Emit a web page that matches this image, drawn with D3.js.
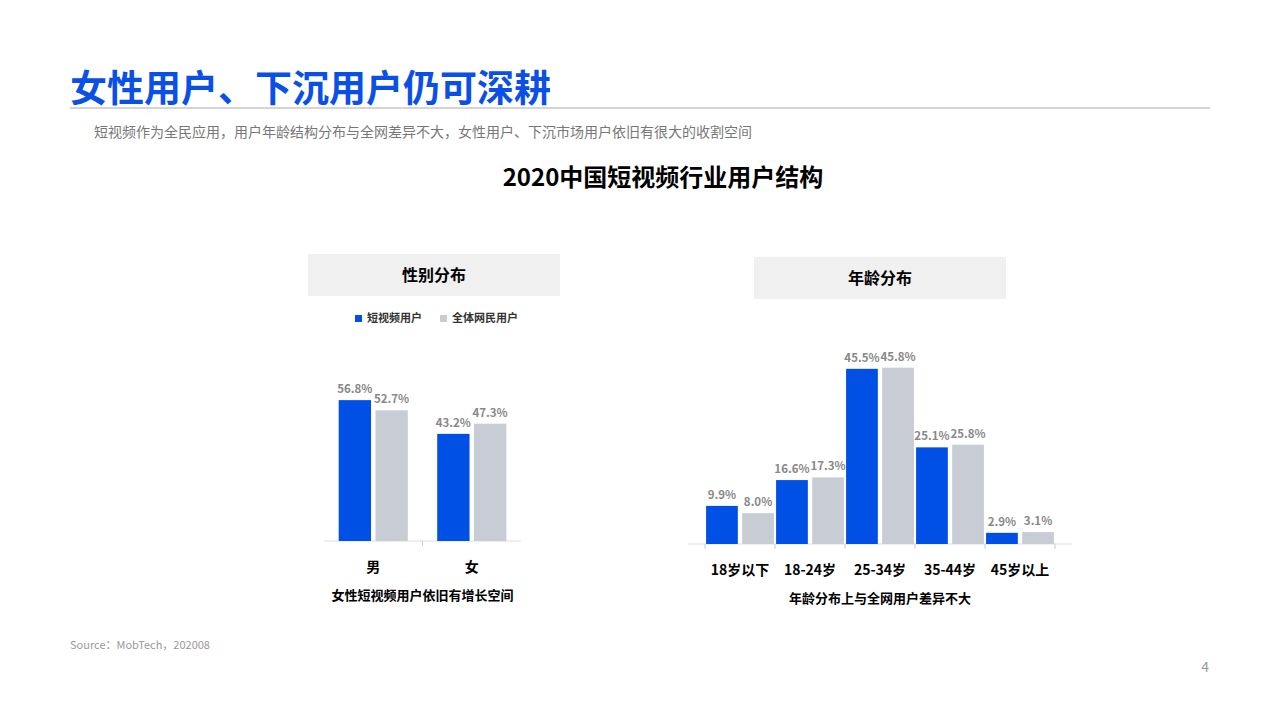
<!DOCTYPE html>
<html><head><meta charset="utf-8">
<script src="https://cdn.jsdelivr.net/npm/d3@7"></script>
<style>body{margin:0;background:#fff;font-family:"Noto Sans CJK SC","Noto Sans",sans-serif;}</style>
</head><body><svg id="c" width="1280" height="720"></svg>
<script>
var genderCats = ["男", "女"];
var genderShort = [56.8, 43.2];
var genderAll = [52.7, 47.3];
var ageCats = ["18岁以下", "18-24岁", "25-34岁", "35-44岁", "45岁以上"];
var ageShort = [9.9, 16.6, 45.5, 25.1, 2.9];
var ageAll = [8.0, 17.3, 45.8, 25.8, 3.1];
var seriesNames = ["短视频用户", "全体网民用户"];
var colors = ["#0050e6", "#c8ccd4"];

var svg = d3.select("#c");
var F = '"Noto Sans CJK SC","Noto Sans",sans-serif';

svg.append("text").attr("x", 70).attr("y", 102).attr("font-size", 37).attr("font-weight", 700)
  .attr("fill", "#0a50e6").attr("font-family", F).text("女性用户、下沉用户仍可深耕");
svg.append("line").attr("x1", 70).attr("x2", 1210).attr("y1", 108).attr("y2", 108).attr("stroke", "#aaa");
svg.append("text").attr("x", 94).attr("y", 137).attr("font-size", 14).attr("fill", "#777").attr("font-family", F)
  .text("短视频作为全民应用，用户年龄结构分布与全网差异不大，女性用户、下沉市场用户依旧有很大的收割空间");
svg.append("text").attr("x", 663).attr("y", 186).attr("text-anchor", "middle").attr("font-size", 24)
  .attr("font-weight", 700).attr("font-family", F).text("2020中国短视频行业用户结构");
svg.append("text").attr("x", 70).attr("y", 649).attr("font-size", 11).attr("fill", "#999").attr("font-family", F)
  .text("Source：MobTech，202008");
svg.append("text").attr("x", 1209).attr("y", 672).attr("text-anchor", "end").attr("font-size", 14).attr("fill", "#999").text("4");

function panel(o) {
  var g = svg.append("g");
  g.append("rect").attr("x", o.hx).attr("y", o.hy).attr("width", o.hw).attr("height", 42).attr("fill", "#f0f0f0");
  g.append("text").attr("x", o.hx + o.hw / 2).attr("y", o.hy + 27).attr("text-anchor", "middle")
    .attr("font-size", 16).attr("font-weight", 700).attr("font-family", F).text(o.title);
  var x = d3.scaleBand().domain(o.cats).range([o.x0, o.x1]);
  var y = d3.scaleLinear().domain([0, 100]).range([o.base, o.base - o.k * 100]);
  var inner = d3.scaleBand().domain([0, 1]).range([0, x.bandwidth()]).paddingInner(0.12).paddingOuter(o.po);
  g.append("line").attr("x1", o.x0 - o.ext).attr("x2", o.x1 + o.ext).attr("y1", o.base).attr("y2", o.base).attr("stroke", "#ddd");
  g.selectAll(".tk").data(d3.range(o.cats.length + 1)).join("line")
    .attr("x1", function(i){ return o.x0 + i * x.step(); }).attr("x2", function(i){ return o.x0 + i * x.step(); })
    .attr("y1", o.base).attr("y2", o.base + 5).attr("stroke", "#ccc")
    .style("display", function(i){ return o.ticksEnds || (i > 0 && i < o.cats.length) ? null : "none"; });
  [o.a, o.b].forEach(function(vals, s) {
    g.selectAll(".b" + s).data(vals).join("rect")
      .attr("x", function(d, i){ return x(o.cats[i]) + inner(s); })
      .attr("y", function(d){ return y(d); }).attr("width", inner.bandwidth())
      .attr("height", function(d){ return o.base - y(d); }).attr("fill", colors[s]);
    g.selectAll(".l" + s).data(vals).join("text")
      .attr("x", function(d, i){ return x(o.cats[i]) + inner(s) + inner.bandwidth() / 2; })
      .attr("y", function(d){ return y(d) - 7; }).attr("text-anchor", "middle")
      .attr("font-size", 11.5).attr("font-weight", 700).attr("fill", "#888").attr("font-family", F)
      .text(function(d){ return d.toFixed(1) + "%"; });
  });
  g.selectAll(".c").data(o.cats).join("text")
    .attr("x", function(d){ return x(d) + x.bandwidth() / 2; }).attr("y", o.base + 31)
    .attr("text-anchor", "middle").attr("font-size", 14).attr("font-weight", 700).attr("font-family", F).text(function(d){ return d; });
  g.append("text").attr("x", (o.x0 + o.x1) / 2).attr("y", o.base + 59).attr("text-anchor", "middle")
    .attr("font-size", 13).attr("font-weight", 700).attr("font-family", F).text(o.note);
}

panel({hx: 308, hy: 254, hw: 252, title: "性别分布", cats: genderCats, a: genderShort, b: genderAll,
  x0: 324, x1: 521, base: 541, k: 2.48, po: 0.4, ext: 0, ticksEnds: false, note: "女性短视频用户依旧有增长空间"});
panel({hx: 754, hy: 257, hw: 252, title: "年龄分布", cats: ageCats, a: ageShort, b: ageAll,
  x0: 705, x1: 1055, base: 544, k: 3.85, po: 0.03, ext: 17, ticksEnds: true, note: "年龄分布上与全网用户差异不大"});

// legend
var lg = svg.append("g").attr("font-family", F).attr("font-size", 11);
[[355, 0], [440, 1]].forEach(function(p) {
  lg.append("rect").attr("x", p[0]).attr("y", 315).attr("width", 7).attr("height", 7).attr("fill", colors[p[1]]);
  lg.append("text").attr("x", p[0] + 12).attr("y", 322).attr("font-weight", 700).attr("fill", "#333").text(seriesNames[p[1]]);
});
</script></body></html>
